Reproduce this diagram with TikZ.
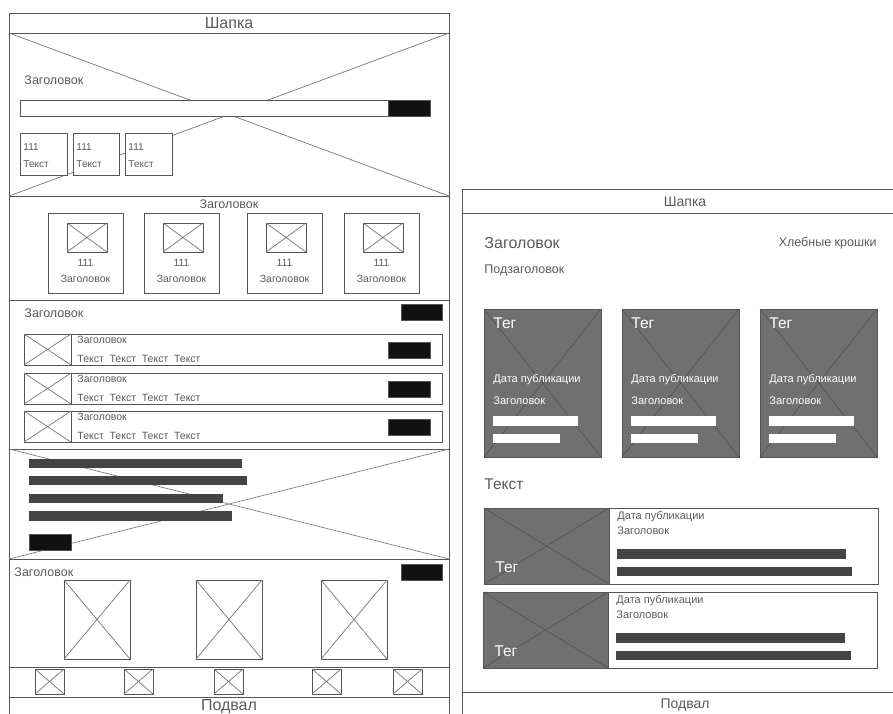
\documentclass[tikz,border=0pt]{standalone}
\usepackage{fontspec}
\setmainfont{Liberation Sans}
\definecolor{ln}{HTML}{555555}
\definecolor{dg}{HTML}{777777}
\definecolor{tx}{HTML}{5A5A5A}
\definecolor{dk}{HTML}{111111}
\definecolor{barc}{HTML}{444444}
\definecolor{cardc}{HTML}{707070}
\newcommand\crossbox[4]{%
  \draw[frame,fill=white] (#1,#2) rectangle (#3,#4);
  \draw[diag] (#1,#2) -- (#3,#4) (#1,#4) -- (#3,#2);}
\begin{document}
\begin{tikzpicture}[x=1pt,y=-1pt,line width=0.9pt,
  frame/.style={draw=ln},
  diag/.style={draw=dg,line width=0.7pt},
  lbl/.style={text=tx,inner sep=0pt,font=\fontsize{#1}{#1}\selectfont},
  wlbl/.style={text=white,inner sep=0pt,font=\fontsize{#1}{#1}\selectfont},
  btn/.style={fill=dk,draw=ln},
  tbar/.style={fill=barc},
  wbar/.style={fill=white}]
\useasboundingbox (0,0) rectangle (893,713);
\clip (0,0) rectangle (893,713);
% ===== left page =====
\draw[frame] (9,725) -- (9,13) -- (449,13) -- (449,725);
\foreach \yy in {33,196,300,449,559,667,697} \draw[frame] (9,\yy) -- (449,\yy);
\node[lbl=16] (lhead) at (229,23) {Шапка};
\node[lbl=16] (lfoot) at (229,707) {Подвал};
% hero
\draw[diag] (9,33) -- (449,196) (449,33) -- (9,196);
\node[lbl=12.5,anchor=west] (herot) at (24,80) {Заголовок};
\draw[frame,fill=white] (20,100) rectangle (430,116);
\draw[btn] (388,100) rectangle (430,116);
\foreach \xx/\ww in {20/47,73/46,125/47}{
  \draw[frame,fill=white] (\xx,133) rectangle ++(\ww,42);
  \node[lbl=10,anchor=west] at (\xx+3,147) {111};
  \node[lbl=10,anchor=west] at (\xx+3,164) {Текст};
}
% section 2
\node[lbl=12.5] (s2t) at (229,204) {Заголовок};
\foreach \xx in {48,144,247,344}{
  \draw[frame] (\xx,213) rectangle ++(75,80);
  \crossbox{\xx+19}{223}{\xx+59}{252}
  \node[lbl=10.5] at (\xx+37.5,263) {111};
  \node[lbl=10.5] at (\xx+37.5,279) {Заголовок};
}
% section 3
\node[lbl=12.5,anchor=west] (s3t) at (24,313) {Заголовок};
\draw[btn] (401,304) rectangle (442,320);
\foreach \yy in {334,373,411}{
  \draw[frame] (24,\yy) rectangle (442,\yy+31);
  \crossbox{24}{\yy}{71}{\yy+31}
  \node[lbl=10.5,anchor=west] at (77,\yy+6) {Заголовок};
  \node[lbl=10.5,anchor=west] at (77,\yy+25) {Текст\hskip0.55em Текст\hskip0.55em Текст\hskip0.55em Текст};
  \draw[btn] (388,\yy+8) rectangle (430,\yy+24);
}
% section 4
\draw[diag] (9,449) -- (449,559) (449,449) -- (9,559);
\fill[tbar] (29,459) rectangle (242,468);
\fill[tbar] (29,476) rectangle (247,485);
\fill[tbar] (29,494) rectangle (223,503);
\fill[tbar] (29,511) rectangle (232,521);
\draw[btn] (29,534) rectangle (71,550);
% section 5
\node[lbl=12.5,anchor=west] (s5t) at (14,572) {Заголовок};
\draw[btn] (401,564) rectangle (442,580);
\crossbox{64}{580}{130}{659}
\crossbox{196}{580}{262}{659}
\crossbox{321}{580}{387}{659}
% section 6
\foreach \xx in {35,124,214,312,393}{\crossbox{\xx}{669}{\xx+29}{694}}
% ===== right page =====
\draw[frame] (462,725) -- (462,189) -- (905,189);
\draw[frame] (462,213) -- (905,213);
\draw[frame] (462,692) -- (905,692);
\node[lbl=14] (rhead) at (685,202) {Шапка};
\node[lbl=14] (rfoot) at (685,705) {Подвал};
\node[lbl=16,anchor=west] (rt) at (484,243) {Заголовок};
\node[lbl=12.5,anchor=east] (crumbs) at (877,243) {Хлебные крошки};
\node[lbl=12.5,anchor=west] (rsub) at (484,270) {Подзаголовок};
\foreach \xx in {484,622,760}{
  \draw[frame,fill=cardc] (\xx,309) rectangle ++(117,148);
  \draw[draw=ln,line width=0.7pt] (\xx,309) -- ++(117,148) (\xx,457) -- ++(117,-148);
  \node[wlbl=15.5,anchor=west] at (\xx+9,323) {Тег};
  \node[wlbl=11,anchor=west] at (\xx+9,380) {Дата публикации};
  \node[wlbl=11,anchor=west] at (\xx+9,401) {Заголовок};
  \fill[wbar] (\xx+9,416) rectangle (\xx+94,426);
  \fill[wbar] (\xx+9,434) rectangle (\xx+76,443);
}
\node[lbl=15.5,anchor=west] (rtext) at (484,484) {Текст};
\foreach \xx/\yy in {484/508,483/592}{
  \draw[frame] (\xx,\yy) rectangle (\xx+394,\yy+76);
  \draw[frame,fill=cardc] (\xx,\yy) rectangle (\xx+125,\yy+76);
  \draw[draw=ln,line width=0.7pt] (\xx,\yy) -- (\xx+125,\yy+76) (\xx,\yy+76) -- (\xx+125,\yy);
  \node[wlbl=15.5,anchor=west] at (\xx+11,\yy+59) {Тег};
  \node[lbl=11,anchor=west] at (\xx+133,\yy+9) {Дата публикации};
  \node[lbl=11,anchor=west] at (\xx+133,\yy+23) {Заголовок};
  \fill[tbar] (\xx+133,\yy+41) rectangle (\xx+362,\yy+51);
  \fill[tbar] (\xx+133,\yy+59) rectangle (\xx+368,\yy+68);
}
\end{tikzpicture}
\end{document}
